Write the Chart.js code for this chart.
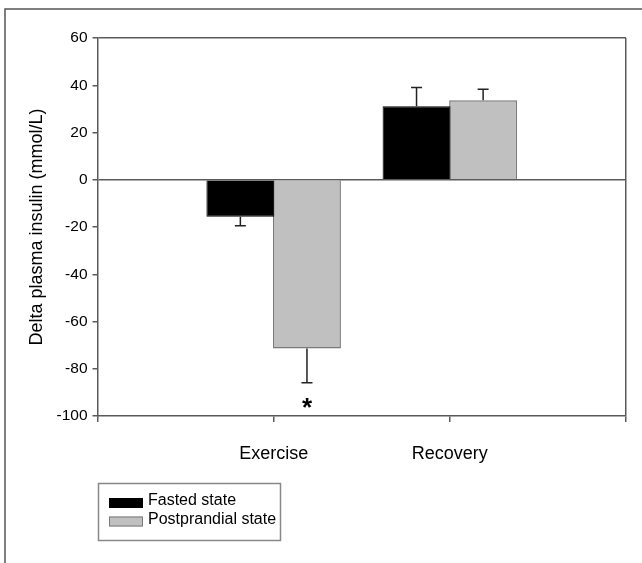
<!DOCTYPE html>
<html>
<head>
<meta charset="utf-8">
<script src="https://cdn.jsdelivr.net/npm/chart.js@4/dist/chart.umd.min.js"></script>
<style>
  body { margin: 0; background: #fff; }
  #wrap { width: 642px; height: 563px; position: relative; }
</style>
</head>
<body>
<div id="wrap"><canvas id="chart" width="642" height="563"></canvas></div>
<script>
// categories (empty ones at both ends, bars sit on the tick marks)
var categories = ['', 'Exercise', 'Recovery', ''];
var seriesNames = ['Fasted state', 'Postprandial state'];

// delta plasma insulin (mmol/L)
var fasted = [null, -15.7, 31.1, null];
var postprandial = [null, -71.4, 33.7, null];

// error bars (one-sided, away from zero)
var fastedErr = [null, 3.8, 7.9, null];
var postprandialErr = [null, 14.5, 4.6, null];

// significance marks for the postprandial bars
var postprandialMarks = ['', '*', '', ''];

var yTicks = [-100, -80, -60, -40, -20, 0, 20, 40, 60];

var fontFamily = "'Liberation Sans', Arial, Helvetica, sans-serif";
var axisColor = '#5a5a5a';

var errors = [fastedErr, postprandialErr];
var marks = [['', '', '', ''], postprandialMarks];

var errorBars = {
    id: 'errorBars',
    afterDatasetsDraw: function(chart) {
        var ctx = chart.ctx;
        var y = chart.scales.y;
        ctx.save();
        chart.data.datasets.forEach(function(ds, i) {
            var meta = chart.getDatasetMeta(i);
            meta.data.forEach(function(bar, j) {
                var v = ds.data[j];
                if (v === null) return;
                var err = errors[i][j];
                var end = v < 0 ? v - err : v + err;
                var py = y.getPixelForValue(end);
                ctx.strokeStyle = '#222';
                ctx.lineWidth = 1.5;
                ctx.beginPath();
                ctx.moveTo(bar.x, bar.y);
                ctx.lineTo(bar.x, py);
                ctx.moveTo(bar.x - 5.5, py);
                ctx.lineTo(bar.x + 5.5, py);
                ctx.stroke();
                if (marks[i][j]) {
                    ctx.fillStyle = '#000';
                    ctx.font = 'bold 26px ' + fontFamily;
                    ctx.textAlign = 'center';
                    ctx.textBaseline = 'middle';
                    ctx.fillText(marks[i][j], bar.x, py + (v < 0 ? 26 : -26));
                }
            });
        });
        ctx.restore();
    }
};

var frameAndLegend = {
    id: 'frameAndLegend',
    beforeDraw: function(chart) {
        var ctx = chart.ctx;
        ctx.save();
        ctx.strokeStyle = '#555';
        ctx.lineWidth = 1.5;
        ctx.beginPath();
        ctx.moveTo(5, 563);
        ctx.lineTo(5, 9);
        ctx.lineTo(642, 9);
        ctx.stroke();
        ctx.restore();
    },
    afterDraw: function(chart) {
        var ctx = chart.ctx;
        ctx.save();
        ctx.strokeStyle = '#888';
        ctx.lineWidth = 1.5;
        ctx.strokeRect(98.5, 483.5, 182, 57);
        ctx.font = '16px ' + fontFamily;
        ctx.textBaseline = 'middle';
        ctx.textAlign = 'left';
        chart.data.datasets.forEach(function(ds, i) {
            var cy = 503 + i * 18.5;
            ctx.fillStyle = ds.backgroundColor;
            ctx.fillRect(109, cy - 5, 34, 10);
            ctx.strokeStyle = ds.borderColor;
            ctx.lineWidth = 1;
            ctx.strokeRect(109.5, cy - 4.5, 33, 9);
            ctx.fillStyle = '#000';
            ctx.fillText(ds.label, 148, cy - 2);
        });
        ctx.restore();
    }
};

var ctx = document.getElementById('chart').getContext('2d');
var myChart = new Chart(ctx, {
    type: 'bar',
    data: {
        labels: categories,
        datasets: [{
            label: seriesNames[0],
            data: fasted,
            backgroundColor: '#000000',
            borderColor: '#000000',
            borderWidth: 1
        },
        {
            label: seriesNames[1],
            data: postprandial,
            backgroundColor: '#c0c0c0',
            borderColor: '#7a7a7a',
            borderWidth: 1.5
        }]
    },
    options: {
        responsive: false,
        maintainAspectRatio: false,
        animation: false,
        categoryPercentage: 0.756,
        barPercentage: 1.02,
        layout: { padding: { top: 38, right: 16, left: 0, bottom: 0 } },
        plugins: {
            legend: { display: false },
            tooltip: { enabled: false }
        },
        scales: {
            x: {
                offset: false,
                afterFit: function(scale) {
                    scale.height = 147;
                    scale.paddingLeft = 0;
                    scale.paddingRight = 0;
                },
                grid: {
                    offset: false,
                    color: function(c) { return c.index === 3 ? axisColor : 'rgba(0,0,0,0)'; },
                    lineWidth: 1.5,
                    tickColor: axisColor,
                    tickLength: 6,
                    drawTicks: true
                },
                border: { color: axisColor, width: 1.5 },
                ticks: {
                    color: '#000',
                    font: { family: fontFamily, size: 18 },
                    padding: 21,
                    maxRotation: 0,
                    autoSkip: false
                }
            },
            y: {
                min: -100,
                max: 60,
                afterFit: function(scale) { scale.width = 97.5; },
                afterBuildTicks: function(scale) {
                    scale.ticks = yTicks.map(function(v) { return { value: v }; });
                },
                grid: {
                    color: function(c) {
                        var v = c.tick ? c.tick.value : null;
                        return (v === 0 || v === 60) ? axisColor : 'rgba(0,0,0,0)';
                    },
                    lineWidth: 1.5,
                    tickColor: axisColor,
                    tickLength: 5
                },
                border: { color: axisColor, width: 1.5 },
                ticks: {
                    color: '#000',
                    font: { family: fontFamily, size: 15.5 },
                    padding: 5
                },
                title: {
                    display: true,
                    text: 'Delta plasma insulin (mmol/L)',
                    color: '#000',
                    font: { family: fontFamily, size: 18 },
                    padding: { top: 26, bottom: 0 }
                }
            }
        }
    },
    plugins: [errorBars, frameAndLegend]
});
</script>
</body>
</html>
